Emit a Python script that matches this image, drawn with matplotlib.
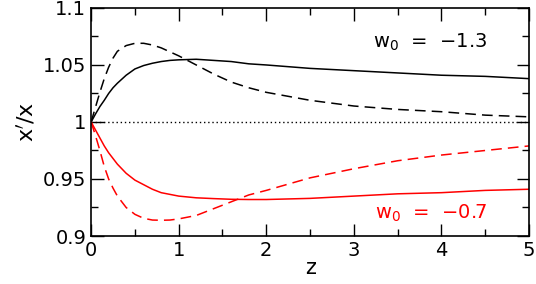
import matplotlib.pyplot as plt
from matplotlib.ticker import MultipleLocator

z = [0, 0.05, 0.1, 0.15, 0.2, 0.25, 0.3, 0.4, 0.5, 0.6, 0.7, 0.8, 0.9, 1.0,
     1.2, 1.4, 1.6, 1.8, 2.0, 2.5, 3.0, 3.5, 4.0, 4.5, 5.0]

# w0 = -1.3
solid_13 = [1.0, 1.007, 1.0135, 1.019, 1.025, 1.030, 1.034, 1.041, 1.0465,
            1.0495, 1.0515, 1.053, 1.054, 1.0545, 1.055, 1.054, 1.053, 1.051,
            1.050, 1.047, 1.045, 1.043, 1.041, 1.040, 1.038]
dashed_13 = [1.0, 1.013, 1.026, 1.038, 1.048, 1.056, 1.062, 1.067, 1.069,
             1.069, 1.0675, 1.065, 1.0615, 1.058, 1.050, 1.042, 1.035, 1.030,
             1.026, 1.019, 1.014, 1.011, 1.009, 1.006, 1.0045]

# w0 = -0.7
solid_07 = [1.0, 0.993, 0.986, 0.979, 0.973, 0.968, 0.963, 0.955, 0.949,
            0.945, 0.941, 0.938, 0.9365, 0.935, 0.9335, 0.9328, 0.9322, 0.932,
            0.932, 0.933, 0.935, 0.937, 0.938, 0.940, 0.941]
dashed_07 = [1.0, 0.988, 0.975, 0.961, 0.950, 0.942, 0.935, 0.925, 0.919,
             0.9155, 0.914, 0.9138, 0.914, 0.915, 0.918, 0.924, 0.930, 0.936,
             0.940, 0.951, 0.959, 0.966, 0.971, 0.975, 0.979]

plt.rcParams['font.family'] = 'DejaVu Sans'
fig = plt.figure(figsize=(5.36, 2.84), dpi=100)
ax = fig.add_axes([0.170, 0.169, 0.817, 0.803])

ax.axhline(1.0, color='black', lw=1.0, ls=(0, (1, 2)))
ax.plot(z, solid_13, color='black', lw=1.1)
ax.plot(z, dashed_13, color='black', lw=1.1, ls=(0, (7, 4)))
ax.plot(z, solid_07, color='red', lw=1.1)
ax.plot(z, dashed_07, color='red', lw=1.1, ls=(0, (7, 4)))

ax.set_xlim(0, 5)
ax.set_ylim(0.9, 1.1)
ax.xaxis.set_minor_locator(MultipleLocator(0.5))
ax.yaxis.set_minor_locator(MultipleLocator(0.025))
ax.set_yticks([0.9, 0.95, 1.0, 1.05, 1.1])
ax.set_yticklabels(['0.9', '0.95', '1', '1.05', '1.1'])
ax.set_xticks([0, 1, 2, 3, 4, 5])
ax.set_xticklabels(['0', '1', '2', '3', '4', '5'])
ax.tick_params(which='both', direction='in', top=True, right=True,
               labelsize=14, width=1.0)
ax.tick_params(which='major', length=9)
ax.tick_params(which='minor', length=5)
for s in ax.spines.values():
    s.set_linewidth(1.2)

ax.set_xlabel('z', fontsize=15, labelpad=-1)
ax.set_ylabel("x$'$/x", fontsize=16, labelpad=4)

ax.text(0.905, 0.851, r'w$_0$  =  $-$1.3', transform=ax.transAxes, fontsize=14,
        ha='right', va='center', color='black')
ax.text(0.905, 0.10, r'w$_0$  =  $-$0.7', transform=ax.transAxes, fontsize=14,
        ha='right', va='center', color='red')

fig.savefig('out.png', dpi=100)
